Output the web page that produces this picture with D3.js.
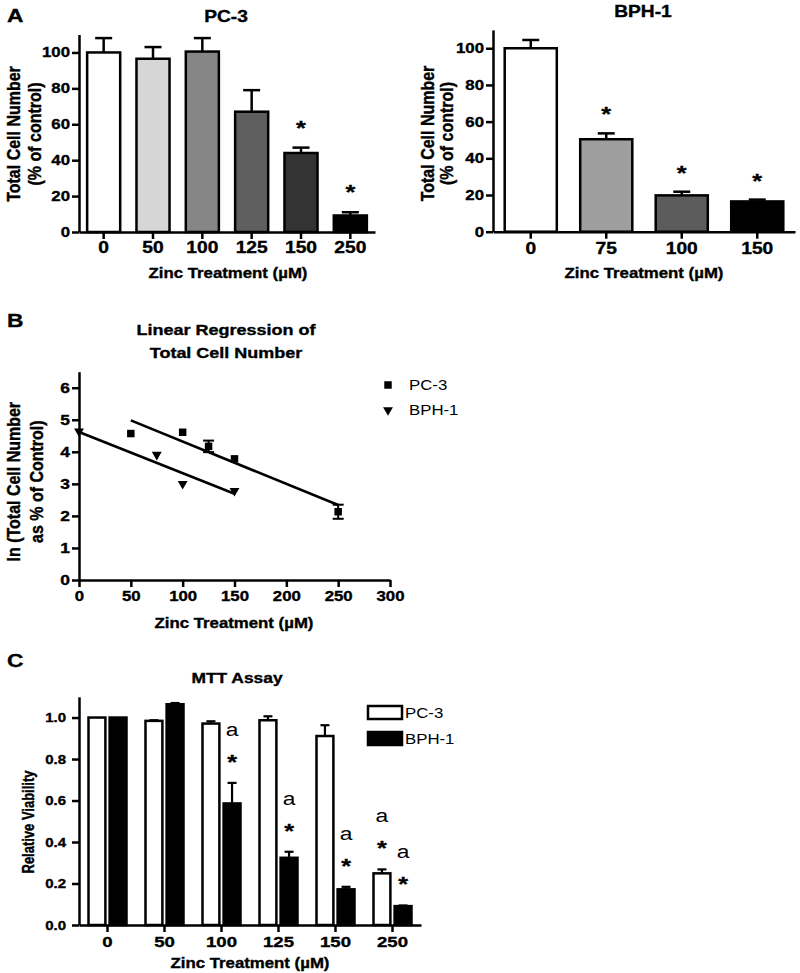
<!DOCTYPE html>
<html><head><meta charset="utf-8">
<script src="https://cdn.jsdelivr.net/npm/d3@7"></script>
<style>
body{margin:0;background:#fff}
svg{display:block}
text{font-family:"Liberation Sans",Arial,Helvetica,sans-serif;fill:#000}
text.bold{stroke:#000;stroke-width:0.35px}
</style>
</head><body>
<svg id="c" width="800" height="973"></svg>
<script>
// ---------- DATA ----------
// Panel A (PC-3)
const pcDoses = ["0", "50", "100", "125", "150", "250"];
const pcMeans = [100, 96.5, 100.5, 67, 44, 9.2];
const pcErr = [8, 6.5, 7.5, 12, 3, 1.8];
const pcFills = ["#ffffff", "#d6d6d6", "#868686", "#5f5f5f", "#333333", "#000000"];
const pcSig = [false, false, false, false, true, true];
// Panel A (BPH-1)
const bphDoses = ["0", "75", "100", "150"];
const bphMeans = [100, 50.4, 19.8, 16.5];
const bphErr = [4.5, 3.2, 2, 1];
const bphFills = ["#ffffff", "#9e9e9e", "#5c5c5c", "#000000"];
const bphSig = [false, true, true, true];
const yTicksA = [0, 20, 40, 60, 80, 100];
// Panel B (ln of total cell number)
const regPcX = [50, 100, 125, 150, 250];
const regPcY = [4.57, 4.61, 4.17, 3.78, 2.13];
const regPcErr = [0, 0, 0.18, 0, 0.22];
const regBphX = [0, 75, 100, 150];
const regBphY = [4.64, 3.91, 3.0, 2.78];
const fitPcX = [50, 250], fitPcY = [4.98, 2.34];
const fitBphX = [0, 150], fitBphY = [4.62, 2.69];
const xTicksB = [0, 50, 100, 150, 200, 250, 300];
const yTicksB = [0, 1, 2, 3, 4, 5, 6];
// Panel C (MTT assay)
const mttDoses = ["0", "50", "100", "125", "150", "250"];
const mttSeries = ["PC-3", "BPH-1"];
const mttPc = [1.0, 0.984, 0.971, 0.987, 0.911, 0.249];
const mttPcErr = [0, 0.003, 0.011, 0.019, 0.052, 0.019];
const mttBph = [1.0, 1.064, 0.586, 0.324, 0.172, 0.091];
const mttBphErr = [0, 0.006, 0.099, 0.029, 0.012, 0.003];
const mttPcSig = [false, false, false, false, false, true];
const mttBphSig = [false, false, true, true, true, true];
const yTicksC = [0, 0.2, 0.4, 0.6, 0.8, 1.0];

// ---------- HELPERS ----------
const SX = 1.2;
const FONT = '"Liberation Sans",Arial,Helvetica,sans-serif';
const svg = d3.select("#c");
const STAR = 21, STAR_BASE = 0.57 * STAR;

function label(x, y, str, size, weight, anchor, rot) {
  const w = weight || "bold";
  return svg.append("text")
    .attr("class", w === "bold" ? "bold" : null)
    .attr("transform", `translate(${x},${y}) scale(${SX},1)` + (rot ? " rotate(-90)" : ""))
    .attr("font-size", size)
    .attr("font-weight", w)
    .attr("text-anchor", anchor || "middle")
    .text(str);
}
function styleAxis(g, fs) {
  g.attr("font-family", FONT).attr("font-size", fs);
  g.selectAll("path,line").attr("stroke", "#000").attr("stroke-width", 2.5);
  g.selectAll("text").attr("class", "bold").attr("font-weight", "bold").attr("fill", "#000")
    .attr("transform", `scale(${SX},1)`)
    .attr("x", function () { return (+this.getAttribute("x") || 0) / SX; });
}

// ---------- PANEL A: PC-3 ----------
(function () {
  const x = d3.scaleBand().domain(pcDoses).range([79, 375]).paddingInner(0.33).paddingOuter(0.165);
  const y = d3.scaleLinear().domain([0, 110]).range([232, 34.5]);
  const g = svg.append("g");
  const data = pcDoses.map((d, i) => ({ d, v: pcMeans[i], e: pcErr[i], f: pcFills[i], s: pcSig[i] }));
  data.forEach(o => {
    const cx = x(o.d) + x.bandwidth() / 2;
    g.append("line").attr("x1", cx).attr("x2", cx).attr("y1", y(o.v)).attr("y2", y(o.v + o.e)).attr("stroke", "#000").attr("stroke-width", 2.5);
    g.append("line").attr("x1", cx - 8.5).attr("x2", cx + 8.5).attr("y1", y(o.v + o.e)).attr("y2", y(o.v + o.e)).attr("stroke", "#000").attr("stroke-width", 2.5);
    g.append("rect").attr("x", x(o.d)).attr("y", y(o.v)).attr("width", x.bandwidth()).attr("height", y(0) - y(o.v))
      .attr("fill", o.f).attr("stroke", "#000").attr("stroke-width", 2.5);
    if (o.s) label(cx, y(o.v + o.e) - 25 + STAR_BASE, "*", STAR);
  });
  styleAxis(svg.append("g").attr("transform", "translate(79,0)")
    .call(d3.axisLeft(y).tickValues(yTicksA).tickSize(7).tickPadding(2).tickSizeOuter(0)), 14);
  styleAxis(svg.append("g").attr("transform", "translate(0,232)")
    .call(d3.axisBottom(x).tickSize(7).tickPadding(3).tickSizeOuter(0)), 16);
  label(7, 22, "A", 19, "bold", "start");
  label(226, 21.8, "PC-3", 16);
  label(20.4, 134, "Total Cell Number", 16, "bold", "middle", true);
  label(41, 134, "(% of control)", 16, "bold", "middle", true);
  label(228, 278, "Zinc Treatment (\u00b5M)", 14);
})();

// ---------- PANEL A: BPH-1 ----------
(function () {
  const x = d3.scaleBand().domain(bphDoses).range([493, 795]).paddingInner(0.31).paddingOuter(0.155);
  const y = d3.scaleLinear().domain([0, 110]).range([231.7, 29.9]);
  const g = svg.append("g");
  const data = bphDoses.map((d, i) => ({ d, v: bphMeans[i], e: bphErr[i], f: bphFills[i], s: bphSig[i] }));
  data.forEach(o => {
    const cx = x(o.d) + x.bandwidth() / 2;
    g.append("line").attr("x1", cx).attr("x2", cx).attr("y1", y(o.v)).attr("y2", y(o.v + o.e)).attr("stroke", "#000").attr("stroke-width", 2.5);
    g.append("line").attr("x1", cx - 8.5).attr("x2", cx + 8.5).attr("y1", y(o.v + o.e)).attr("y2", y(o.v + o.e)).attr("stroke", "#000").attr("stroke-width", 2.5);
    g.append("rect").attr("x", x(o.d)).attr("y", y(o.v)).attr("width", x.bandwidth()).attr("height", y(0) - y(o.v))
      .attr("fill", o.f).attr("stroke", "#000").attr("stroke-width", 2.5);
    if (o.s) label(cx, y(o.v + o.e) - 24 + STAR_BASE, "*", STAR);
  });
  styleAxis(svg.append("g").attr("transform", "translate(493,0)")
    .call(d3.axisLeft(y).tickValues(yTicksA).tickSize(7).tickPadding(2).tickSizeOuter(0)), 14);
  styleAxis(svg.append("g").attr("transform", "translate(0,231.7)")
    .call(d3.axisBottom(x).tickSize(7).tickPadding(3.5).tickSizeOuter(0)), 16);
  label(643, 16.8, "BPH-1", 16);
  label(434, 133.5, "Total Cell Number", 16, "bold", "middle", true);
  label(453, 133.5, "(% of control)", 16, "bold", "middle", true);
  label(644, 278, "Zinc Treatment (\u00b5M)", 14);
})();

// ---------- PANEL B ----------
(function () {
  const x = d3.scaleLinear().domain([0, 300]).range([79, 390]);
  const y = d3.scaleLinear().domain([0, 6.5]).range([580, 371.7]);
  const g = svg.append("g");
  const line = d3.line().x(d => x(d[0])).y(d => y(d[1]));
  g.append("path").attr("d", line(fitPcX.map((v, i) => [v, fitPcY[i]]))).attr("stroke", "#000").attr("stroke-width", 2.6).attr("fill", "none");
  g.append("path").attr("d", line(fitBphX.map((v, i) => [v, fitBphY[i]]))).attr("stroke", "#000").attr("stroke-width", 2.6).attr("fill", "none");
  styleAxis(svg.append("g").attr("transform", "translate(79,0)")
    .call(d3.axisLeft(y).tickValues(yTicksB).tickFormat(d3.format("d")).tickSize(7).tickPadding(2).tickSizeOuter(0)), 14.5);
  styleAxis(svg.append("g").attr("transform", "translate(0,580)")
    .call(d3.axisBottom(x).tickValues(xTicksB).tickFormat(d3.format("d")).tickSize(7).tickPadding(4.5).tickSizeOuter(0)), 14);
  regPcX.forEach((v, i) => {
    const cx = x(v), cy = y(regPcY[i]);
    if (regPcErr[i] > 0) {
      const e = regPcErr[i];
      g.append("line").attr("x1", cx).attr("x2", cx).attr("y1", y(regPcY[i] - e)).attr("y2", y(regPcY[i] + e)).attr("stroke", "#000").attr("stroke-width", 2);
      [regPcY[i] - e, regPcY[i] + e].forEach(yy => g.append("line").attr("x1", cx - 5.5).attr("x2", cx + 5.5).attr("y1", y(yy)).attr("y2", y(yy)).attr("stroke", "#000").attr("stroke-width", 2));
    }
    svg.append("path").attr("d", d3.symbol(d3.symbolSquare, 56)()).attr("transform", `translate(${cx},${cy})`).attr("fill", "#000");
  });
  regBphX.forEach((v, i) => {
    svg.append("path").attr("d", d3.symbol(d3.symbolTriangle, 42)())
      .attr("transform", `translate(${x(v)},${y(regBphY[i])}) rotate(180)`).attr("fill", "#000");
  });
  // legend
  svg.append("path").attr("d", d3.symbol(d3.symbolSquare, 56)()).attr("transform", "translate(388,385)").attr("fill", "#000");
  svg.append("path").attr("d", d3.symbol(d3.symbolTriangle, 42)()).attr("transform", "translate(388,410) rotate(180)").attr("fill", "#000");
  label(409, 390, "PC-3", 14, "normal", "start");
  label(409, 415, "BPH-1", 14, "normal", "start");
  label(7, 326.8, "B", 19, "bold", "start");
  label(226, 335, "Linear Regression of", 15);
  label(226, 357.5, "Total Cell Number", 15);
  label(20.4, 481.7, "ln (Total Cell Number", 16, "bold", "middle", true);
  label(43, 481.7, "as % of Control)", 16, "bold", "middle", true);
  label(234, 628.3, "Zinc Treatment (\u00b5M)", 14);
})();

// ---------- PANEL C ----------
(function () {
  const x0 = d3.scaleBand().domain(mttDoses).range([79, 421]).paddingInner(0.3333).paddingOuter(0.1667);
  const x1 = d3.scaleBand().domain(mttSeries).range([0, x0.bandwidth()]).paddingInner(0.2);
  const y = d3.scaleLinear().domain([0, 1.1]).range([925, 696.8]);
  const g = svg.append("g");
  const series = [
    { name: "PC-3", vals: mttPc, errs: mttPcErr, sig: mttPcSig, fill: "#ffffff" },
    { name: "BPH-1", vals: mttBph, errs: mttBphErr, sig: mttBphSig, fill: "#000000" }
  ];
  series.forEach(s => {
    mttDoses.forEach((d, i) => {
      const bx = x0(d) + x1(s.name), bw = x1.bandwidth(), cx = bx + bw / 2;
      const v = s.vals[i], e = s.errs[i];
      if (e > 0) {
        g.append("line").attr("x1", cx).attr("x2", cx).attr("y1", y(v)).attr("y2", y(v + e)).attr("stroke", "#000").attr("stroke-width", 2.2);
        g.append("line").attr("x1", cx - 4.5).attr("x2", cx + 4.5).attr("y1", y(v + e)).attr("y2", y(v + e)).attr("stroke", "#000").attr("stroke-width", 2.2);
      }
      g.append("rect").attr("x", bx).attr("y", y(v)).attr("width", bw).attr("height", y(0) - y(v))
        .attr("fill", s.fill).attr("stroke", "#000").attr("stroke-width", 2.5);
      if (s.sig[i]) {
        label(cx, y(v + e) - 26 + STAR_BASE, "*", STAR);
        label(cx, y(v + e) - 52 + 4.9, "a", 19, "normal");
      }
    });
  });
  styleAxis(svg.append("g").attr("transform", "translate(79,0)")
    .call(d3.axisLeft(y).tickValues(yTicksC).tickFormat(d3.format(".1f")).tickSize(7).tickPadding(6).tickSizeOuter(0)), 12.5);
  styleAxis(svg.append("g").attr("transform", "translate(0,925)")
    .call(d3.axisBottom(x0).tickSize(7).tickPadding(4).tickSizeOuter(0)), 15.5);
  // legend
  svg.append("rect").attr("x", 368).attr("y", 706).attr("width", 34).attr("height", 13).attr("fill", "#fff").attr("stroke", "#000").attr("stroke-width", 2.5);
  svg.append("rect").attr("x", 368).attr("y", 732).attr("width", 34).attr("height", 13).attr("fill", "#000").attr("stroke", "#000").attr("stroke-width", 2.5);
  label(405, 718, "PC-3", 14, "normal", "start");
  label(405, 744, "BPH-1", 14, "normal", "start");
  label(7, 666.8, "C", 19, "bold", "start");
  label(237, 683.2, "MTT Assay", 14.5);
  label(33.6, 822, "Relative Viability", 13, "bold", "middle", true);
  label(250, 968, "Zinc Treatment (\u00b5M)", 14);
})();
</script>
</body></html>
